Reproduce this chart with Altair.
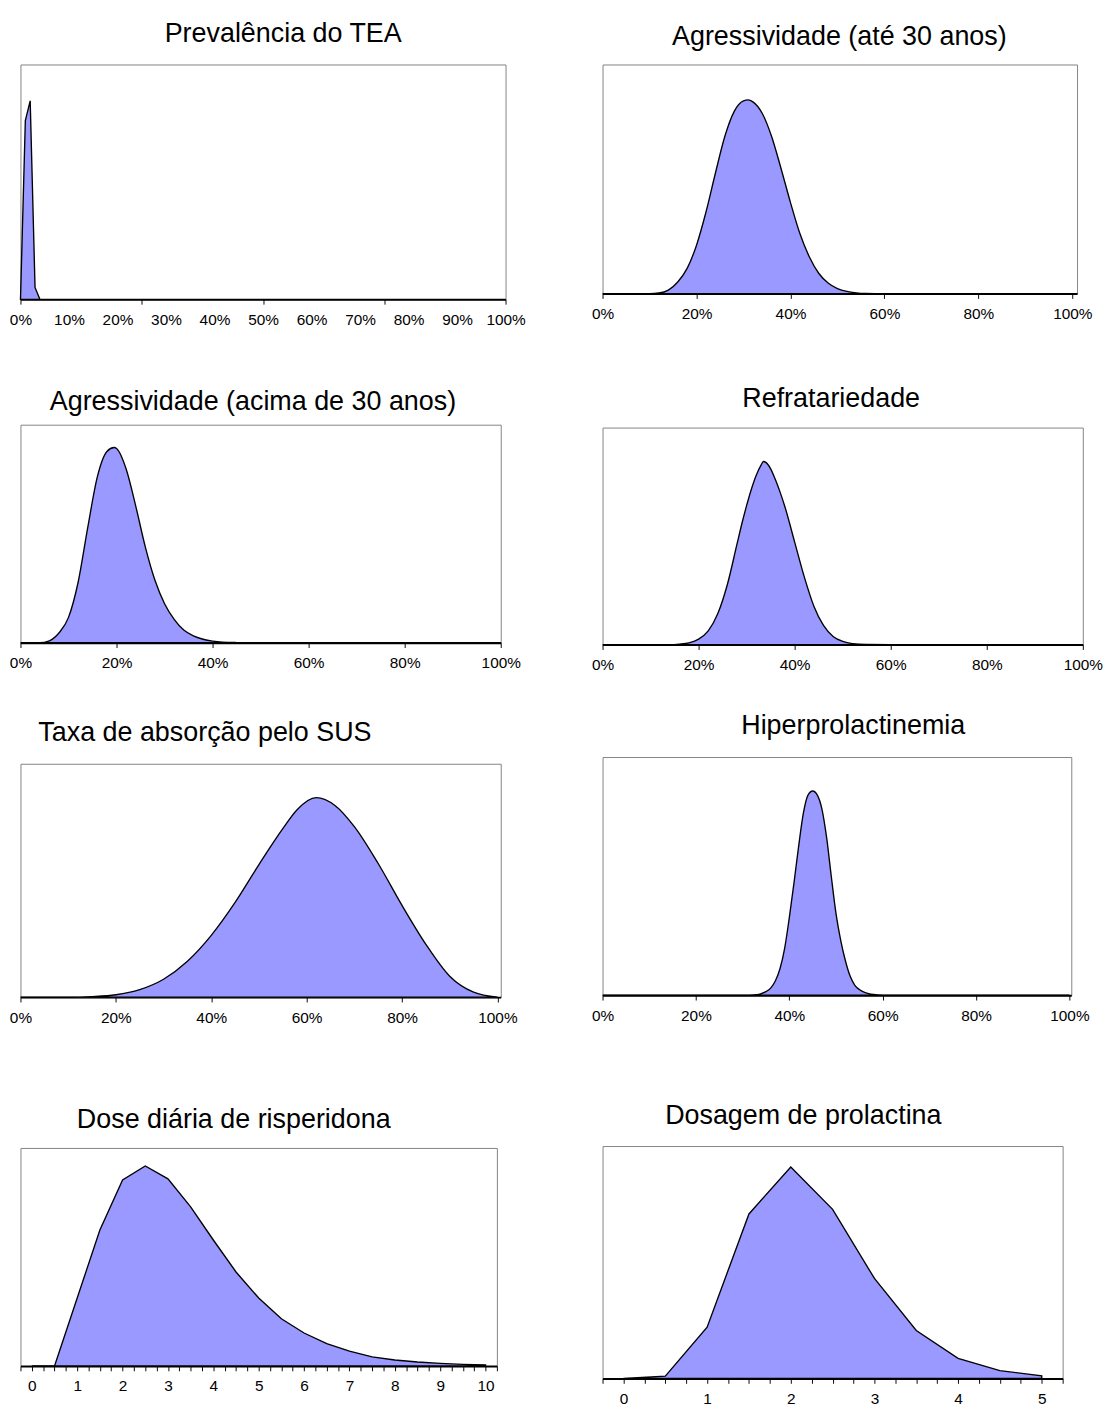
import altair as alt
import pandas as pd

FONT = "Liberation Sans"
FILL = "#9999FF"

# ---- data ----
tea_x = [0, 1, 2, 3, 4, 100]
tea_y = [0, 0.90, 1.0, 0.06, 0, 0]

agr30_x = [0, 10, 12, 14, 16, 18, 20, 22, 24, 26, 28, 30, 31, 32, 34, 36, 38, 40, 42, 44, 46, 48, 50, 52, 54, 56, 60, 100]
agr30_y = [0, 0, 0.003, 0.018, 0.06, 0.13, 0.25, 0.42, 0.62, 0.81, 0.94, 0.995, 1.0, 0.99, 0.93, 0.81, 0.645, 0.47, 0.31, 0.19, 0.105, 0.055, 0.026, 0.011, 0.004, 0.001, 0, 0]

agr30p_x = [0, 4, 6, 8, 10, 12, 14, 16, 18, 19.5, 20, 22, 24, 26, 28, 30, 32, 34, 36, 38, 40, 42, 45, 50, 100]
agr30p_y = [0, 0, 0.01, 0.05, 0.13, 0.31, 0.59, 0.85, 0.98, 1.0, 0.995, 0.89, 0.70, 0.49, 0.32, 0.20, 0.12, 0.065, 0.035, 0.018, 0.008, 0.003, 0.001, 0, 0]

refr_x = [0, 14, 16, 18, 20, 22, 24, 26, 28, 29, 30, 31, 32, 33, 33.5, 34, 35, 36, 37, 38, 40, 42, 44, 46, 48, 50, 52, 55, 60, 100]
refr_y = [0, 0, 0.003, 0.01, 0.03, 0.075, 0.17, 0.33, 0.55, 0.66, 0.76, 0.85, 0.925, 0.98, 1.0, 0.995, 0.96, 0.90, 0.83, 0.75, 0.56, 0.37, 0.21, 0.105, 0.045, 0.018, 0.006, 0.001, 0, 0]

sus_x = [0, 10, 15, 20, 25, 30, 35, 40, 45, 50, 55, 58, 62, 66, 70, 75, 80, 85, 90, 95, 100]
sus_y = [0, 0, 0.003, 0.012, 0.038, 0.09, 0.18, 0.31, 0.475, 0.665, 0.845, 0.94, 1.0, 0.96, 0.855, 0.67, 0.46, 0.265, 0.105, 0.025, 0]

hiper_x = [0, 30, 33, 34, 35, 36, 37, 38, 39, 40, 41, 42, 43, 44, 45, 46, 47, 48, 49, 50, 51, 52, 53, 54, 55, 56, 57, 58, 60, 100]
hiper_y = [0, 0, 0.003, 0.008, 0.018, 0.035, 0.07, 0.13, 0.23, 0.38, 0.55, 0.73, 0.89, 0.98, 1.0, 0.98, 0.91, 0.77, 0.58, 0.40, 0.27, 0.17, 0.095, 0.05, 0.028, 0.015, 0.008, 0.004, 0.001, 0]

dose_x = [0, 0.5, 1, 1.5, 2, 2.5, 3, 3.5, 4, 4.5, 5, 5.5, 6, 6.5, 7, 7.5, 8, 8.5, 9, 9.5, 10]
dose_y = [0, 0, 0.34, 0.68, 0.93, 1.0, 0.936, 0.796, 0.63, 0.47, 0.34, 0.236, 0.165, 0.112, 0.074, 0.046, 0.03, 0.02, 0.013, 0.008, 0.005]

prol_x = [0, 0.5, 1, 1.5, 2, 2.5, 3, 3.5, 4, 4.5, 5]
prol_y = [0, 0.011, 0.243, 0.778, 1.0, 0.80, 0.473, 0.227, 0.095, 0.037, 0.013]

pct_ticks = [0, 20, 40, 60, 80, 100]
tea_ticks = [0, 10, 20, 25, 30, 40, 50, 60, 70, 75, 80, 90, 100]
dose_ticks = [i / 4 for i in range(-1, 42)]
prol_ticks = [i / 4 for i in range(-1, 22)]


def pct_axis(values):
    return alt.Axis(values=values, labelExpr="datum.value + '%'")


def num_axis(values):
    return alt.Axis(values=values,
                    labelExpr="datum.value % 1 === 0 && datum.value >= 0 ? '' + datum.value : ''")


tea_axis = alt.Axis(
    values=tea_ticks,
    labelExpr="datum.value % 10 === 0 ? datum.value + '%' : ''",
    tickOpacity={"condition": {"test": "datum.value % 25 === 0", "value": 1}, "value": 0},
)


def panel(xs, ys, title, dx, offset, w, h, ymax, xdom, axis, interp):
    df = pd.DataFrame({"x": xs, "y": ys})
    return alt.Chart(df).mark_area(
        fill=FILL, fillOpacity=1, stroke="black", strokeWidth=1.4, interpolate=interp
    ).encode(
        x=alt.X("x:Q", scale=alt.Scale(domain=xdom, nice=False, zero=False), axis=axis, title=None),
        y=alt.Y("y:Q", scale=alt.Scale(domain=[0, ymax], nice=False), axis=None),
    ).properties(
        width=w, height=h,
        title=alt.TitleParams(title, font=FONT, fontSize=28, fontWeight="normal", color="black",
                              anchor="middle", frame="group", baseline="top",
                              offset=offset, dx=dx),
    )


p1 = panel(tea_x, tea_y, "Prevalência do TEA", 21, 17, 505, 244.5, 1.183, [0, 100], tea_axis, "linear")
p2 = panel(agr30_x, agr30_y, "Agressividade (até 30 anos)", -0.5, 14, 494, 238.5, 1.183, [0, 101], pct_axis(pct_ticks), "monotone")
p3 = panel(agr30p_x, agr30p_y, "Agressividade (acima de 30 anos)", -8, 9, 500, 227, 1.117, [0, 100], pct_axis(pct_ticks), "monotone")
p4 = panel(refr_x, refr_y, "Refratariedade", -12, 15, 500, 226, 1.185, [0, 100], pct_axis(pct_ticks), "monotone")
p5 = panel(sus_x, sus_y, "Taxa de absorção pelo SUS", -58, 18, 500, 243, 1.17, [0, 100.7], pct_axis(pct_ticks), "monotone")
p6 = panel(hiper_x, hiper_y, "Hiperprolactinemia", 17, 18, 488, 248, 1.166, [0, 100.4], pct_axis(pct_ticks), "monotone")
p7 = panel(dose_x, dose_y, "Dose diária de risperidona", -26, 15, 496, 227, 1.09, [-0.25, 10.25], num_axis(dose_ticks), "linear")
p8 = panel(prol_x, prol_y, "Dosagem de prolactina", -30.5, 17, 479, 242, 1.099, [-0.25, 5.25], num_axis(prol_ticks), "linear")

left = alt.vconcat(p1, alt.vconcat(p3, alt.vconcat(p5, p7, spacing=83), spacing=49), spacing=63)
right = alt.vconcat(p2, alt.vconcat(p4, alt.vconcat(p6, p8, spacing=81), spacing=40), spacing=66)

chart = alt.hconcat(left, right, spacing=67).properties(
    padding={"left": 0, "top": -16.5, "right": 0, "bottom": 0}
).configure_view(
    stroke="#808080", strokeWidth=1
).configure_axis(
    labelFont=FONT, labelFontSize=16, labelColor="black",
    domainColor="black", domainWidth=2, tickColor="black", tickSize=5, tickWidth=1,
    labelPadding=8, grid=False, labelFlush=False, labelOverlap=False, labelBound=False,
)

chart.save("out.html", embed_options={"renderer": "svg", "actions": False})
